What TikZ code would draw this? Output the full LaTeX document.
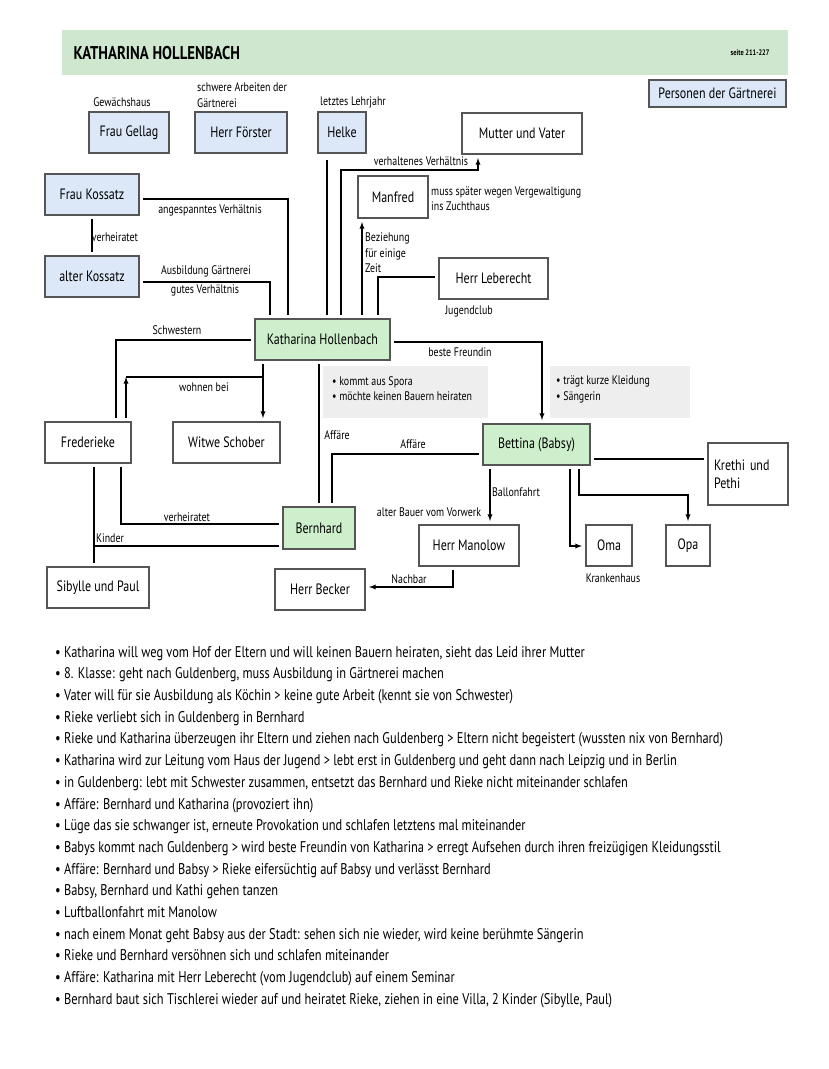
\documentclass[tikz,border=0pt]{standalone}
\usepackage{fontspec}
\setmainfont{PT Sans}[FakeStretch=0.8]

\definecolor{kgreen}{HTML}{CDEFCB}
\definecolor{kband}{HTML}{CFE7CE}
\definecolor{kblue}{HTML}{DCE8F8}
\definecolor{kgray}{HTML}{EEEEEE}
\definecolor{boxgray}{HTML}{555555}

\newcommand{\nodefont}{\fontsize{15}{18}\selectfont}
\newcommand{\labfont}{\fontsize{12.4}{15.5}\selectfont}

\tikzset{
	person/.style={draw=boxgray, line width=1.2pt, minimum height=41pt, inner sep=2pt, outer sep=4pt, font=\nodefont},
	gaertner/.style={person, fill=kblue},
	haupt/.style={person, fill=kgreen},
	note/.style={fill=kgray, anchor=north west, align=left, inner sep=0pt, font=\labfont},
	lab/.style={font=\labfont, inner sep=1pt},
	link/.style={line width=1.3pt},
}

\begin{document}
\begin{tikzpicture}[x=1pt, y=-1pt, >=latex]

	\useasboundingbox (0,0) rectangle (828,1069);

	% Kopfzeile
	\fill[kband] (62,30) rectangle (788,75);
	\node[anchor=west, font=\fontsize{18.5}{20}\bfseries\selectfont] (titel) at (70,53) {KATHARINA HOLLENBACH};
	\node[anchor=east, font=\fontsize{8}{9}\bfseries\selectfont] (seite) at (773,53) {seite 211-227};

	\node[gaertner, minimum width=137pt, minimum height=27pt] (personen) at (717.5,93.5) {Personen der Gärtnerei};

	% Personen
	\node[gaertner, minimum width=80pt] (gellag) at (129,132.5) {Frau Gellag};
	\node[gaertner, minimum width=92pt] (foerster) at (241,132.5) {Herr Förster};
	\node[gaertner, minimum width=48pt] (helke) at (342,132.5) {Helke};
	\node[person, minimum width=120pt] (eltern) at (522,133.5) {Mutter und Vater};
	\node[gaertner, minimum width=94pt] (fkossatz) at (92,194.5) {Frau Kossatz};
	\node[gaertner, minimum width=94pt] (akossatz) at (92,276.5) {alter Kossatz};
	\node[person, minimum width=70pt, minimum height=42pt] (manfred) at (393,197) {Manfred};
	\node[person, minimum width=109pt] (leberecht) at (493.5,278.5) {Herr Leberecht};
	\node[haupt, minimum width=135pt] (kath) at (322.5,339.5) {Katharina Hollenbach};
	\node[person, minimum width=86pt] (frederieke) at (88,442.5) {Frederieke};
	\node[person, minimum width=107pt] (witwe) at (226.5,442.5) {Witwe Schober};
	\node[haupt, minimum width=107pt] (bettina) at (536.5,444.5) {Bettina (Babsy)};
	\node[person, minimum width=80pt, minimum height=62pt, align=left, text width=68pt] (krethi) at (748,474) {Krethi und\\Pethi};
	\node[haupt, minimum width=72pt, minimum height=42pt] (bernhard) at (319,528) {Bernhard};
	\node[person, minimum width=100pt] (manolow) at (469,545.5) {Herr Manolow};
	\node[person, minimum width=46pt] (oma) at (609,545.5) {Oma};
	\node[person, minimum width=44pt] (opa) at (688,545.5) {Opa};
	\node[person, minimum width=90pt] (becker) at (320,589.5) {Herr Becker};
	\node[person, minimum width=102pt] (sibylle) at (98,587.5) {Sibylle und Paul};

	% graue Notizen
	\fill[kgray] (323,366) rectangle (488,418);
	\node[note] (spora) at (332,376) {• kommt aus Spora\\• möchte keinen Bauern heiraten};
	\fill[kgray] (550,366) rectangle (690,418);
	\node[note] (kleidung) at (556,376) {• trägt kurze Kleidung\\• Sängerin};

	% Beschriftungen
	\node[lab] (l_gew) at (122,102) {Gewächshaus};
	\node[lab, anchor=west, align=left] (l_schwer) at (196,95) {schwere Arbeiten der\\Gärtnerei};
	\node[lab] (l_lehr) at (353,102) {letztes Lehrjahr};
	\node[lab] (l_verh1) at (115,237) {verheiratet};
	\node[lab] (l_angesp) at (210,210) {angespanntes Verhältnis};
	\node[lab] (l_ausb) at (206,271) {Ausbildung Gärtnerei};
	\node[lab] (l_gut) at (205,290) {gutes Verhältnis};
	\node[lab] (l_verhalt) at (421,161) {verhaltenes Verhältnis};
	\node[lab, anchor=west, align=left] (l_muss) at (430,198.5) {muss später wegen Vergewaltigung\\ins Zuchthaus};
	\node[lab, anchor=west, align=left] (l_bez) at (364,253) {Beziehung\\für einige\\Zeit};
	\node[lab] (l_jugend) at (469,311) {Jugendclub};
	\node[lab] (l_schw) at (177,330) {Schwestern};
	\node[lab] (l_wohnen) at (204,387) {wohnen bei};
	\node[lab] (l_beste) at (460,352) {beste Freundin};
	\node[lab] (l_aff1) at (337,435) {Affäre};
	\node[lab] (l_aff2) at (413,444) {Affäre};
	\node[lab] (l_ballon) at (516,492) {Ballonfahrt};
	\node[lab] (l_bauer) at (429,512) {alter Bauer vom Vorwerk};
	\node[lab] (l_kranken) at (613,578) {Krankenhaus};
	\node[lab] (l_nachbar) at (409,579) {Nachbar};
	\node[lab] (l_verh2) at (187,517) {verheiratet};
	\node[lab] (l_kinder) at (110,538) {Kinder};

	% Knickpunkte
	\coordinate (c_fk) at (288,199);
	\coordinate (c_ak) at (270,282);
	\coordinate (c_helke) at (327,160);
	\coordinate (c_el1) at (341,170);
	\coordinate (c_el2) at (478,170);
	\coordinate (c_man) at (362,230);
	\coordinate (c_leb) at (378,277);
	\coordinate (c_schw) at (116,340);
	\coordinate (c_wohn1) at (263,377);
	\coordinate (c_wohn2) at (126,377);
	\coordinate (c_aff1) at (319,400);
	\coordinate (c_aff2) at (332,454);
	\coordinate (c_beste) at (542,342);
	\coordinate (c_krethi) at (600,459);
	\coordinate (c_ballon) at (490,490);
	\coordinate (c_oma) at (570,546);
	\coordinate (c_opa1) at (579,495);
	\coordinate (c_opa2) at (688,495);
	\coordinate (c_nach) at (453,587);
	\coordinate (c_verh) at (121,524);
	\coordinate (c_kind) at (94,546);

	% Verbindungen
	\draw[link] (fkossatz) -- (akossatz);
	\draw[link] (fkossatz.east |- c_fk) -- (c_fk) -- (c_fk |- kath.north);
	\draw[link] (akossatz.east |- c_ak) -- (c_ak) -- (c_ak |- kath.north);
	\draw[link] (c_helke) -- (c_helke |- kath.north);
	\draw[link, ->] (c_el1 |- kath.north) -- (c_el1) -- (c_el2) -- (c_el2 |- eltern.south);
	\draw[link, ->] (c_man |- kath.north) -- (c_man |- manfred.south);
	\draw[link] (c_leb |- kath.north) -- (c_leb) -- (leberecht.west |- c_leb);
	\draw[link] (kath.west |- c_schw) -- (c_schw) -- (c_schw |- frederieke.north);
	\draw[link, ->] (c_wohn1 |- kath.south) -- (c_wohn1 |- witwe.north);
	\draw[link, ->] (c_wohn2 |- frederieke.north) -- (c_wohn2);
	\draw[link] (c_wohn2) -- (c_wohn1);
	\draw[link] (c_aff1 |- kath.south) -- (c_aff1 |- bernhard.north);
	\draw[link] (bettina.west |- c_aff2) -- (c_aff2) -- (c_aff2 |- bernhard.north);
	\draw[link, ->] (kath.east |- c_beste) -- (c_beste) -- (c_beste |- bettina.north);
	\draw[link] (bettina.east |- c_krethi) -- (krethi.west |- c_krethi);
	\draw[link, ->] (c_ballon |- bettina.south) -- (c_ballon |- manolow.north);
	\draw[link, ->] (c_oma |- bettina.south) -- (c_oma) -- (oma.west |- c_oma);
	\draw[link, ->] (c_opa1 |- bettina.south) -- (c_opa1) -- (c_opa2) -- (c_opa2 |- opa.north);
	\draw[link, ->] (c_nach |- manolow.south) -- (c_nach) -- (becker.east |- c_nach);
	\draw[link] (c_verh |- frederieke.south) -- (c_verh) -- (bernhard.west |- c_verh);
	\draw[link] (c_kind |- frederieke.south) -- (c_kind |- sibylle.north);
	\draw[link] (c_kind) -- (bernhard.west |- c_kind);

	% Stichpunkte
	\node[anchor=north west, align=left, inner sep=0pt, font=\fontsize{15.5}{21.7}\selectfont] (stichpunkte) at (55,646) {%
		• Katharina will weg vom Hof der Eltern und will keinen Bauern heiraten, sieht das Leid ihrer Mutter\\
		• 8. Klasse: geht nach Guldenberg, muss Ausbildung in Gärtnerei machen\\
		• Vater will für sie Ausbildung als Köchin > keine gute Arbeit (kennt sie von Schwester)\\
		• Rieke verliebt sich in Guldenberg in Bernhard\\
		• Rieke und Katharina überzeugen ihr Eltern und ziehen nach Guldenberg > Eltern nicht begeistert (wussten nix von Bernhard)\\
		• Katharina wird zur Leitung vom Haus der Jugend > lebt erst in Guldenberg und geht dann nach Leipzig und in Berlin\\
		• in Guldenberg: lebt mit Schwester zusammen, entsetzt das Bernhard und Rieke nicht miteinander schlafen\\
		• Affäre: Bernhard und Katharina (provoziert ihn)\\
		• Lüge das sie schwanger ist, erneute Provokation und schlafen letztens mal miteinander\\
		• Babys kommt nach Guldenberg > wird beste Freundin von Katharina > erregt Aufsehen durch ihren freizügigen Kleidungsstil\\
		• Affäre: Bernhard und Babsy > Rieke eifersüchtig auf Babsy und verlässt Bernhard\\
		• Babsy, Bernhard und Kathi gehen tanzen\\
		• Luftballonfahrt mit Manolow\\
		• nach einem Monat geht Babsy aus der Stadt: sehen sich nie wieder, wird keine berühmte Sängerin\\
		• Rieke und Bernhard versöhnen sich und schlafen miteinander\\
		• Affäre: Katharina mit Herr Leberecht (vom Jugendclub) auf einem Seminar\\
		• Bernhard baut sich Tischlerei wieder auf und heiratet Rieke, ziehen in eine Villa, 2 Kinder (Sibylle, Paul)};

\end{tikzpicture}
\end{document}
